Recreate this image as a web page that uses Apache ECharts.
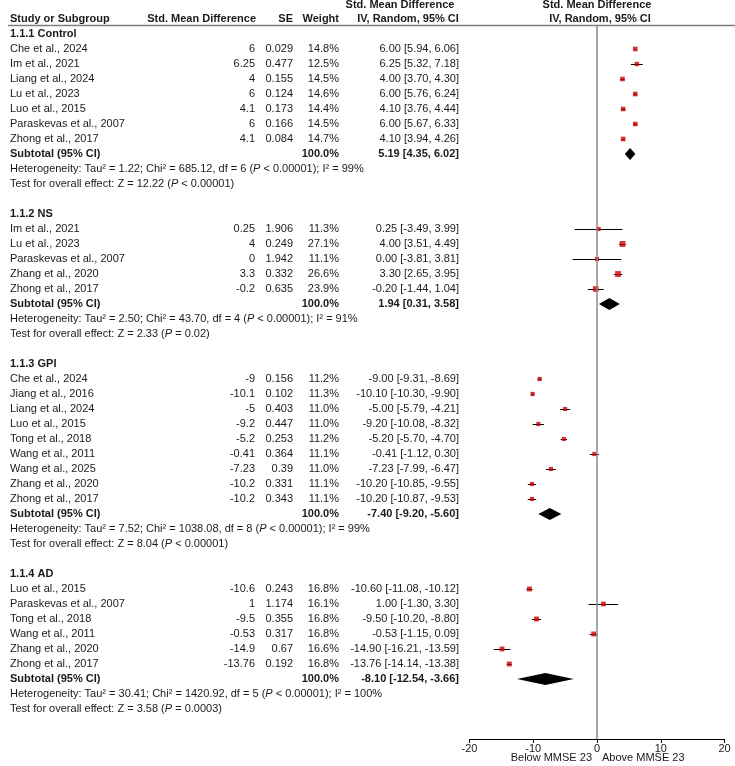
<!DOCTYPE html>
<html>
<head>
    <meta charset="utf-8"/>
    <title>Forest plot</title>
    <script src="https://cdn.jsdelivr.net/npm/echarts@6/dist/echarts.min.js"></script>
    <style>
        html, body { margin: 0; padding: 0; background: #fff; }
        #main { width: 735px; height: 766px; }
    </style>
</head>
<body>
<div id="main"></div>
<script type="text/javascript">
    // 1.1.1 Control
    var controlStudy = ['Che et al., 2024', 'Im et al., 2021', 'Liang et al., 2024', 'Lu et al., 2023', 'Luo et al., 2015', 'Paraskevas et al., 2007', 'Zhong et al., 2017'];
    var controlSmd = [6, 6.25, 4, 6, 4.1, 6, 4.1];
    var controlSe = ['0.029', '0.477', '0.155', '0.124', '0.173', '0.166', '0.084'];
    var controlWeight = [14.8, 12.5, 14.5, 14.6, 14.4, 14.5, 14.7];
    var controlLo = [5.94, 5.32, 3.70, 5.76, 3.76, 5.67, 3.94];
    var controlHi = [6.06, 7.18, 4.30, 6.24, 4.44, 6.33, 4.26];
    var controlSub = [5.19, 4.35, 6.02];
    var controlHet = 'Heterogeneity: Tau² = 1.22; Chi² = 685.12, df = 6 (P < 0.00001); I² = 99%';
    var controlTest = 'Test for overall effect: Z = 12.22 (P < 0.00001)';

    // 1.1.2 NS
    var nsStudy = ['Im et al., 2021', 'Lu et al., 2023', 'Paraskevas et al., 2007', 'Zhang et al., 2020', 'Zhong et al., 2017'];
    var nsSmd = [0.25, 4, 0, 3.3, -0.2];
    var nsSe = ['1.906', '0.249', '1.942', '0.332', '0.635'];
    var nsWeight = [11.3, 27.1, 11.1, 26.6, 23.9];
    var nsLo = [-3.49, 3.51, -3.81, 2.65, -1.44];
    var nsHi = [3.99, 4.49, 3.81, 3.95, 1.04];
    var nsSub = [1.94, 0.31, 3.58];
    var nsHet = 'Heterogeneity: Tau² = 2.50; Chi² = 43.70, df = 4 (P < 0.00001); I² = 91%';
    var nsTest = 'Test for overall effect: Z = 2.33 (P = 0.02)';

    // 1.1.3 GPI
    var gpiStudy = ['Che et al., 2024', 'Jiang et al., 2016', 'Liang et al., 2024', 'Luo et al., 2015', 'Tong et al., 2018', 'Wang et al., 2011', 'Wang et al., 2025', 'Zhang et al., 2020', 'Zhong et al., 2017'];
    var gpiSmd = [-9, -10.1, -5, -9.2, -5.2, -0.41, -7.23, -10.2, -10.2];
    var gpiSe = ['0.156', '0.102', '0.403', '0.447', '0.253', '0.364', '0.39', '0.331', '0.343'];
    var gpiWeight = [11.2, 11.3, 11.0, 11.0, 11.2, 11.1, 11.0, 11.1, 11.1];
    var gpiLo = [-9.31, -10.30, -5.79, -10.08, -5.70, -1.12, -7.99, -10.85, -10.87];
    var gpiHi = [-8.69, -9.90, -4.21, -8.32, -4.70, 0.30, -6.47, -9.55, -9.53];
    var gpiSub = [-7.40, -9.20, -5.60];
    var gpiHet = 'Heterogeneity: Tau² = 7.52; Chi² = 1038.08, df = 8 (P < 0.00001); I² = 99%';
    var gpiTest = 'Test for overall effect: Z = 8.04 (P < 0.00001)';

    // 1.1.4 AD
    var adStudy = ['Luo et al., 2015', 'Paraskevas et al., 2007', 'Tong et al., 2018', 'Wang et al., 2011', 'Zhang et al., 2020', 'Zhong et al., 2017'];
    var adSmd = [-10.6, 1, -9.5, -0.53, -14.9, -13.76];
    var adSe = ['0.243', '1.174', '0.355', '0.317', '0.67', '0.192'];
    var adWeight = [16.8, 16.1, 16.8, 16.8, 16.6, 16.8];
    var adLo = [-11.08, -1.30, -10.20, -1.15, -16.21, -14.14];
    var adHi = [-10.12, 3.30, -8.80, 0.09, -13.59, -13.38];
    var adSub = [-8.10, -12.54, -3.66];
    var adHet = 'Heterogeneity: Tau² = 30.41; Chi² = 1420.92, df = 5 (P < 0.00001); I² = 100%';
    var adTest = 'Test for overall effect: Z = 3.58 (P = 0.0003)';

    var xTicks = [-20, -10, 0, 10, 20];

    var groups = [
        {title: '1.1.1 Control', study: controlStudy, smd: controlSmd, se: controlSe, w: controlWeight, lo: controlLo, hi: controlHi, sub: controlSub, het: controlHet, test: controlTest},
        {title: '1.1.2 NS', study: nsStudy, smd: nsSmd, se: nsSe, w: nsWeight, lo: nsLo, hi: nsHi, sub: nsSub, het: nsHet, test: nsTest},
        {title: '1.1.3 GPI', study: gpiStudy, smd: gpiSmd, se: gpiSe, w: gpiWeight, lo: gpiLo, hi: gpiHi, sub: gpiSub, het: gpiHet, test: gpiTest},
        {title: '1.1.4 AD', study: adStudy, smd: adSmd, se: adSe, w: adWeight, lo: adLo, hi: adHi, sub: adSub, het: adHet, test: adTest}
    ];

    // one entry per table line
    var rows = [];
    groups.forEach(function (g, gi) {
        if (gi > 0) rows.push({type: 'blank'});
        rows.push({type: 'title', text: g.title});
        g.study.forEach(function (s, i) {
            rows.push({type: 'study', name: s, smd: g.smd[i], se: g.se[i], w: g.w[i], lo: g.lo[i], hi: g.hi[i]});
        });
        rows.push({type: 'sub', est: g.sub[0], lo: g.sub[1], hi: g.sub[2]});
        rows.push({type: 'het', text: g.het});
        rows.push({type: 'het', text: g.test});
    });

    var whiskerData = [], squareData = [], diamondData = [], tableData = [];
    rows.forEach(function (r, i) {
        tableData.push([0, i]);
        if (r.type === 'study') {
            whiskerData.push([r.lo, r.hi, i]);
            squareData.push([r.smd, i, r.w]);
        } else if (r.type === 'sub') {
            diamondData.push([r.est, r.lo, r.hi, i]);
        }
    });

    var FONT = '"Liberation Sans", Arial, sans-serif';
    var INK = '#1a1a1a';
    var ROW_MIN = -8 / 15, ROW_MAX = 47;

    function ci(est, lo, hi) {
        return est.toFixed(2) + ' [' + lo.toFixed(2) + ', ' + hi.toFixed(2) + ']';
    }
    function richP(s) {
        return '{n|' + s.replace('(P', '(}{i|P}{n|') + '}';
    }

    function renderTable(params, api) {
        var r = rows[params.dataIndex];
        var y = api.coord([0, params.dataIndex])[1];
        var kids = [];
        var txt = function (x, s, align, bold) {
            kids.push({
                type: 'text', x: x, y: y,
                style: {text: s, align: align, verticalAlign: 'middle', fill: INK,
                    fontFamily: FONT, fontSize: 11, fontWeight: bold ? 'bold' : 'normal'}
            });
        };
        if (r.type === 'title') {
            txt(10, r.text, 'left', true);
        } else if (r.type === 'study') {
            txt(10, r.name, 'left');
            txt(255, String(r.smd), 'right');
            txt(293, r.se, 'right');
            txt(339, r.w.toFixed(1) + '%', 'right');
            txt(459, ci(r.smd, r.lo, r.hi), 'right');
        } else if (r.type === 'sub') {
            txt(10, 'Subtotal (95% CI)', 'left', true);
            txt(339, '100.0%', 'right', true);
            txt(459, ci(r.est, r.lo, r.hi), 'right', true);
        } else if (r.type === 'het') {
            kids.push({
                type: 'text', x: 10, y: y,
                style: {
                    text: richP(r.text), align: 'left', verticalAlign: 'middle', fill: INK,
                    fontFamily: FONT, fontSize: 11,
                    rich: {
                        n: {fontFamily: FONT, fontSize: 11, fill: INK},
                        i: {fontFamily: FONT, fontSize: 11, fill: INK, fontStyle: 'italic'}
                    }
                }
            });
        }
        return {type: 'group', children: kids};
    }

    var chart = echarts.init(document.getElementById('main'));
    chart.setOption({
        animation: false,
        backgroundColor: '#fff',
        grid: [
            {left: 469.5, right: 10.5, top: 26, bottom: 27},
            {left: 0, right: 0, top: 26, bottom: 27}
        ],
        xAxis: [
            {
                gridIndex: 0, type: 'value', position: 'bottom',
                min: xTicks[0], max: xTicks[xTicks.length - 1], interval: 10,
                axisLine: {onZero: false, lineStyle: {color: '#000', width: 1}},
                axisTick: {show: true, length: 4, lineStyle: {color: '#000'}},
                axisLabel: {color: INK, fontFamily: FONT, fontSize: 11, margin: 4},
                splitLine: {show: false}
            },
            {gridIndex: 1, type: 'value', min: 0, max: 735, show: false}
        ],
        yAxis: [
            {gridIndex: 0, type: 'value', inverse: true, min: ROW_MIN, max: ROW_MAX, show: false},
            {gridIndex: 1, type: 'value', inverse: true, min: ROW_MIN, max: ROW_MAX, show: false}
        ],
        graphic: [
            {type: 'line', shape: {x1: 8, y1: 25.5, x2: 735, y2: 25.5}, style: {stroke: '#7f7f7f', lineWidth: 1.5}},
            {type: 'text', x: 10, y: 19, style: {text: 'Study or Subgroup', align: 'left', verticalAlign: 'middle', fill: INK, fontFamily: FONT, fontSize: 11, fontWeight: 'bold'}},
            {type: 'text', x: 256, y: 19, style: {text: 'Std. Mean Difference', align: 'right', verticalAlign: 'middle', fill: INK, fontFamily: FONT, fontSize: 11, fontWeight: 'bold'}},
            {type: 'text', x: 293, y: 19, style: {text: 'SE', align: 'right', verticalAlign: 'middle', fill: INK, fontFamily: FONT, fontSize: 11, fontWeight: 'bold'}},
            {type: 'text', x: 339, y: 19, style: {text: 'Weight', align: 'right', verticalAlign: 'middle', fill: INK, fontFamily: FONT, fontSize: 11, fontWeight: 'bold'}},
            {type: 'text', x: 400, y: 5, style: {text: 'Std. Mean Difference', align: 'center', verticalAlign: 'middle', fill: INK, fontFamily: FONT, fontSize: 11, fontWeight: 'bold'}},
            {type: 'text', x: 408, y: 19, style: {text: 'IV, Random, 95% CI', align: 'center', verticalAlign: 'middle', fill: INK, fontFamily: FONT, fontSize: 11, fontWeight: 'bold'}},
            {type: 'text', x: 597, y: 5, style: {text: 'Std. Mean Difference', align: 'center', verticalAlign: 'middle', fill: INK, fontFamily: FONT, fontSize: 11, fontWeight: 'bold'}},
            {type: 'text', x: 600, y: 19, style: {text: 'IV, Random, 95% CI', align: 'center', verticalAlign: 'middle', fill: INK, fontFamily: FONT, fontSize: 11, fontWeight: 'bold'}},
            {type: 'text', x: 592, y: 758, style: {text: 'Below MMSE 23', align: 'right', verticalAlign: 'middle', fill: INK, fontFamily: FONT, fontSize: 11}},
            {type: 'text', x: 602, y: 758, style: {text: 'Above MMSE 23', align: 'left', verticalAlign: 'middle', fill: INK, fontFamily: FONT, fontSize: 11}}
        ],
        series: [
            {
                name: 'table',
                type: 'custom',
                xAxisIndex: 1, yAxisIndex: 1,
                clip: false,
                silent: true,
                renderItem: renderTable,
                data: tableData
            },
            {
                name: 'whiskers',
                type: 'custom',
                xAxisIndex: 0, yAxisIndex: 0,
                z: 2,
                silent: true,
                encode: {x: [0, 1], y: 2},
                renderItem: function (params, api) {
                    var a = api.coord([api.value(0), api.value(2)]);
                    var b = api.coord([api.value(1), api.value(2)]);
                    return {
                        type: 'line',
                        shape: {x1: a[0], y1: Math.round(a[1]) + 0.5, x2: b[0], y2: Math.round(b[1]) + 0.5},
                        style: {stroke: '#000', lineWidth: 1}
                    };
                },
                data: whiskerData,
                markLine: {
                    silent: true,
                    symbol: 'none',
                    label: {show: false},
                    lineStyle: {color: '#8a8a8a', width: 1.5, type: 'solid'},
                    data: [{xAxis: 0}]
                }
            },
            {
                name: 'studies',
                type: 'scatter',
                xAxisIndex: 0, yAxisIndex: 0,
                z: 3,
                silent: true,
                symbol: 'rect',
                symbolSize: function (v) { return 0.9 * Math.sqrt(v[2]) + 1.2; },
                itemStyle: {color: '#c80000'},
                data: squareData
            },
            {
                name: 'subtotals',
                type: 'custom',
                xAxisIndex: 0, yAxisIndex: 0,
                z: 3,
                silent: true,
                encode: {x: [0, 1, 2], y: 3},
                renderItem: function (params, api) {
                    var row = api.value(3);
                    var m = api.coord([api.value(0), row]);
                    var l = api.coord([api.value(1), row]);
                    var h = api.coord([api.value(2), row]);
                    return {
                        type: 'polygon',
                        shape: {points: [[l[0], m[1]], [m[0], m[1] - 6], [h[0], m[1]], [m[0], m[1] + 6]]},
                        style: {fill: '#000'}
                    };
                },
                data: diamondData
            }
        ]
    });
</script>
</body>
</html>
